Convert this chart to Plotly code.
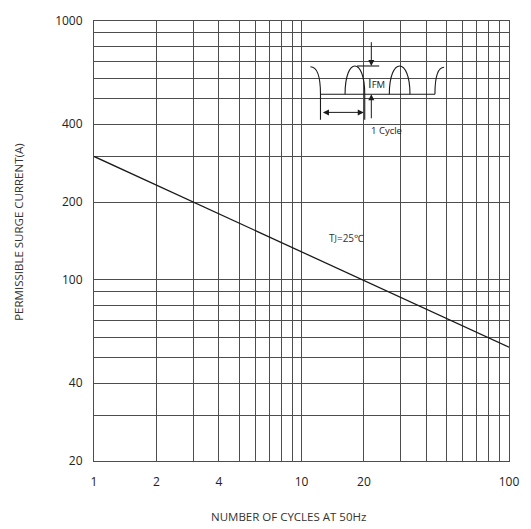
import plotly.graph_objects as go

# ---- data ----
cycles = [1, 100]
surge_current = [300, 55]

x_grid = [1, 2, 3, 4, 5, 6, 7, 8, 9, 10, 20, 30, 40, 50, 60, 70, 80, 90, 100]
x_labels = ["1", "2", "", "4", "", "", "", "", "", "10", "20", "", "", "", "", "", "", "", "100"]
y_grid = [20, 30, 40, 50, 60, 70, 80, 90, 100, 200, 300, 400, 500, 600, 700, 800, 900, 1000]
y_labels = ["20", "", "40", "", "", "", "", "", "100", "200", "", "400", "", "", "", "", "", "1000"]

W, H = 531, 529
# plot area in page pixels: x 94..516, y 18..461
L, T = 94, 18
R = W - 516
B = H - 461
PW, PH = W - L - R, H - T - B

def X(px):
    return (px - L) / PW

def Y(py):
    return (H - B - py) / PH

FONT = "Open Sans"
GRID = "#4d4d4d"

fig = go.Figure()
fig.add_trace(go.Scatter(x=cycles, y=surge_current, mode="lines",
                         line=dict(color="#1a1a1a", width=1.3),
                         showlegend=False, hoverinfo="skip"))

shapes = []
# white inset panel covering gridlines
shapes.append(dict(type="rect", xref="paper", yref="paper",
                   x0=X(307), x1=X(456), y0=Y(136), y1=Y(36),
                   fillcolor="white", line=dict(width=0), layer="between"))

def path(pts_str):
    return dict(type="path", xref="paper", yref="paper", path=pts_str,
                line=dict(color="#1a1a1a", width=1.1), layer="above")

def P(px, py):
    return f"{X(px):.5f},{Y(py):.5f}"

base = 91.7
top = 63.3
ctrl = base - (base - top) / 0.75

def hump(x0, x1):
    return (f"M {P(x0, base)} C {P(x0, ctrl)} {P(x1, ctrl)} {P(x1, base)}")

# left partial hump + vertical drop
shapes.append(path(f"M {P(314, 64)} C {P(321, 64)} {P(324.3, 74)} {P(324.3, base)} L {P(324.3, 117.3)}"))
# baseline
shapes.append(path(f"M {P(324.3, base)} L {P(440.7, base)}"))
# humps
shapes.append(path(hump(349.3, 369.3)))
shapes.append(path(hump(394.3, 415.3)))
# middle hump right vertical
shapes.append(path(f"M {P(369.3, base)} L {P(369.3, 117.3)}"))
# right partial hump
shapes.append(path(f"M {P(440.7, base)} C {P(440.7, 74)} {P(444, 64.5)} {P(450, 64.5)}"))
# IFM top reference line
shapes.append(path(f"M {P(361.5, top)} L {P(384, top)}"))

annotations = []

def arrow(hx, hy, tx, ty, both=False):
    annotations.append(dict(x=X(hx), y=Y(hy), xref="paper", yref="paper",
                            ax=tx - hx, ay=ty - hy, axref="pixel", ayref="pixel",
                            text="", showarrow=True, arrowhead=2, arrowsize=1.2,
                            arrowwidth=1, arrowcolor="#1a1a1a",
                            arrowside="end+start" if both else "end",
                            startarrowhead=2, startarrowsize=1.2))

arrow(376, top, 376, 38)
arrow(376, base, 376, 117.3)
arrow(368.3, 110, 326, 110, both=True)

annotations.append(dict(x=X(371), y=Y(80.5), xref="paper", yref="paper",
                        text="I<span style='font-size:9.5px'>FM</span>", showarrow=False,
                        xanchor="left", yanchor="middle",
                        font=dict(family=FONT, size=13, color="#222")))
annotations.append(dict(x=X(391.5), y=Y(128.5), xref="paper", yref="paper",
                        text="1 Cycle", showarrow=False,
                        xanchor="center", yanchor="middle",
                        font=dict(family=FONT, size=9.5, color="#222")))
annotations.append(dict(x=X(351), y=Y(236), xref="paper", yref="paper",
                        text="T<span style='font-size:9px'>J</span>=25℃", showarrow=False,
                        xanchor="center", yanchor="middle",
                        font=dict(family=FONT, size=10, color="#333")))
# axis titles
annotations.append(dict(x=X(292), y=Y(517), xref="paper", yref="paper",
                        text="NUMBER OF CYCLES AT 50Hz", showarrow=False,
                        xanchor="center", yanchor="middle",
                        font=dict(family=FONT, size=11.5, color="#333")))
annotations.append(dict(x=X(17), y=Y(231), xref="paper", yref="paper",
                        text="PERMISSIBLE SURGE CURRENT(A)", showarrow=False,
                        textangle=-90, xanchor="center", yanchor="middle",
                        font=dict(family=FONT, size=11.5, color="#333")))

fig.update_layout(
    width=W, height=H, autosize=False,
    margin=dict(l=L, r=R, t=T, b=B, pad=0),
    paper_bgcolor="white", plot_bgcolor="white",
    shapes=shapes, annotations=annotations,
    font=dict(family=FONT, size=12, color="#222"),
)
fig.update_xaxes(type="log", range=[0, 2], tickvals=x_grid, ticktext=x_labels,
                 showgrid=True, gridcolor=GRID, gridwidth=1,
                 showline=True, linecolor=GRID, linewidth=1, mirror=True,
                 ticks="", ticklabelstandoff=10, zeroline=False,
                 ticklabeloverflow="allow",
                 tickfont=dict(family=FONT, size=12, color="#222"))
fig.update_yaxes(type="log", range=[1.30103, 3], tickvals=y_grid, ticktext=y_labels,
                 showgrid=True, gridcolor=GRID, gridwidth=1,
                 showline=True, linecolor=GRID, linewidth=1, mirror=True,
                 ticks="", ticklabelstandoff=8, zeroline=False,
                 ticklabeloverflow="allow",
                 tickfont=dict(family=FONT, size=12, color="#222"))

fig.write_html("out.html",
               config={"displayModeBar": False, "responsive": False},
               post_script=("document.documentElement.style.overflow='hidden';"
                            "document.body.style.margin='0';"
                            "document.body.style.overflow='hidden';"))
